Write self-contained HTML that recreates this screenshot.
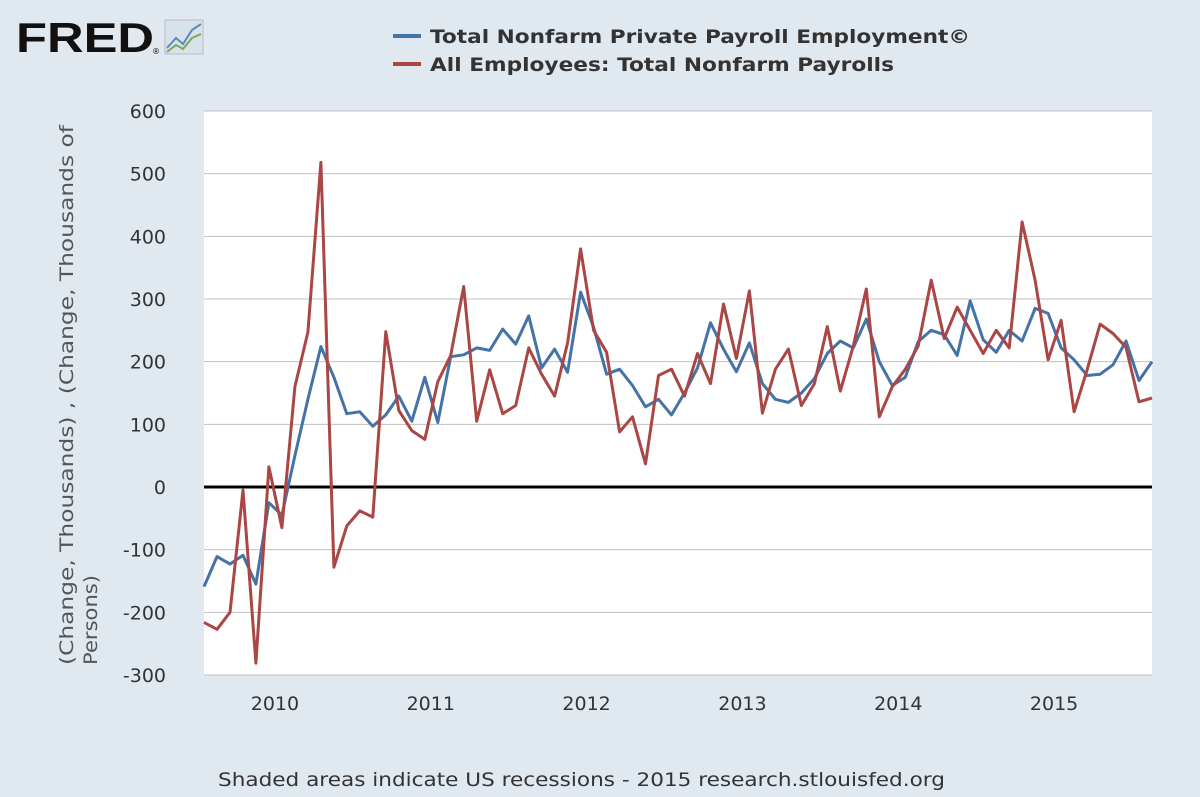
<!DOCTYPE html>
<html><head><meta charset="utf-8"><style>
body{margin:0;background:#e1e9f0;}
svg{display:block;font-family:"DejaVu Sans","Liberation Sans",sans-serif;}
</style></head><body>
<svg id="s" width="1200" height="797" xmlns="http://www.w3.org/2000/svg">
<rect width="1200" height="797" fill="#e1e9f0"/>
<text x="16" y="52" font-size="42" font-weight="bold" fill="#111" textLength="138" lengthAdjust="spacingAndGlyphs" font-family="Liberation Sans">FRED</text>
<text x="152" y="54" font-size="8" fill="#111">®</text>
<rect x="165" y="20" width="38" height="34" fill="#d8e2ea" stroke="#bbb"/>
<polyline points="167,48 176,38 183,44 192,30 201,24" fill="none" stroke="#5a8ab8" stroke-width="2"/>
<polyline points="167,52 176,45 183,49 192,38 201,34" fill="none" stroke="#7aa85a" stroke-width="2"/>
<line x1="393" y1="36" x2="421" y2="36" stroke="#4572a7" stroke-width="4"/>
<line x1="393" y1="64" x2="421" y2="64" stroke="#aa4643" stroke-width="4"/>
<text x="430" y="43" font-size="19" font-weight="bold" fill="#333" textLength="540" lengthAdjust="spacingAndGlyphs">Total Nonfarm Private Payroll Employment©</text>
<text x="430" y="71" font-size="19" font-weight="bold" fill="#333" textLength="464" lengthAdjust="spacingAndGlyphs">All Employees: Total Nonfarm Payrolls</text>
<rect x="204" y="111" width="948" height="564" fill="#fff"/>
<g id="grid" stroke="#c0c0c0" stroke-width="1"></g>
<g id="ylab" font-size="19" fill="#333" text-anchor="end"></g>
<g id="xlab" font-size="19" fill="#333" text-anchor="middle"></g>
<line x1="204" y1="487" x2="1152" y2="487" stroke="#000" stroke-width="3"/>
<polyline id="blue" fill="none" stroke="#4572a7" stroke-width="3" stroke-linejoin="round"/>
<polyline id="red" fill="none" stroke="#aa4643" stroke-width="3" stroke-linejoin="round"/>
<g transform="translate(73,665) rotate(-90)" font-size="19" fill="#555">
<text x="0" y="0" textLength="540" lengthAdjust="spacingAndGlyphs">(Change, Thousands) , (Change, Thousands of</text>
<text x="0" y="24" textLength="90" lengthAdjust="spacingAndGlyphs">Persons)</text>
</g>
<text x="218" y="786" font-size="19" fill="#333" textLength="727" lengthAdjust="spacingAndGlyphs">Shaded areas indicate US recessions - 2015 research.stlouisfed.org</text>
</svg>
<script>
var ns="http://www.w3.org/2000/svg";
function Y(v){return 487-v*0.62667;}
var g=document.getElementById('grid'),yl=document.getElementById('ylab'),xl=document.getElementById('xlab');
for(var v=-300;v<=600;v+=100){var l=document.createElementNS(ns,'line');l.setAttribute('x1',204);l.setAttribute('x2',1152);l.setAttribute('y1',Y(v));l.setAttribute('y2',Y(v));g.appendChild(l);
var t=document.createElementNS(ns,'text');t.setAttribute('x',166);t.setAttribute('y',Y(v)+7);t.textContent=v;yl.appendChild(t);}
var dx=948/73;
for(var y=2010;y<=2015;y++){var x=204+(5+(y-2010)*12)*dx+6;var t=document.createElementNS(ns,'text');t.setAttribute('x',x);t.setAttribute('y',710);t.textContent=y;xl.appendChild(t);}
var red=[-216,-227,-200,-5,-281,32,-65,160,247,518,-128,-62,-38,-48,248,122,90,76,168,210,320,105,187,117,130,222,180,145,230,380,250,215,88,112,37,178,188,145,213,165,292,205,313,118,188,220,130,165,256,153,225,316,112,160,188,225,330,237,287,250,213,250,222,423,330,203,266,120,187,260,245,223,136,142];
var blue=[-159,-111,-123,-109,-155,-25,-45,50,140,224,175,117,120,97,115,145,105,175,103,208,211,222,218,252,228,273,190,220,183,311,255,180,188,162,128,140,115,150,190,262,220,184,230,165,140,135,150,173,213,233,222,268,200,162,175,232,250,243,210,297,235,215,250,233,285,277,222,203,178,180,195,233,170,187,200];
blue=blue.slice(0,73).concat([200]);
function pts(a){return a.map(function(v,i){return (204+i*dx).toFixed(1)+','+Y(v).toFixed(1)}).join(' ');}
document.getElementById('red').setAttribute('points',pts(red));
document.getElementById('blue').setAttribute('points',pts(blue));
</script>
</body></html>
